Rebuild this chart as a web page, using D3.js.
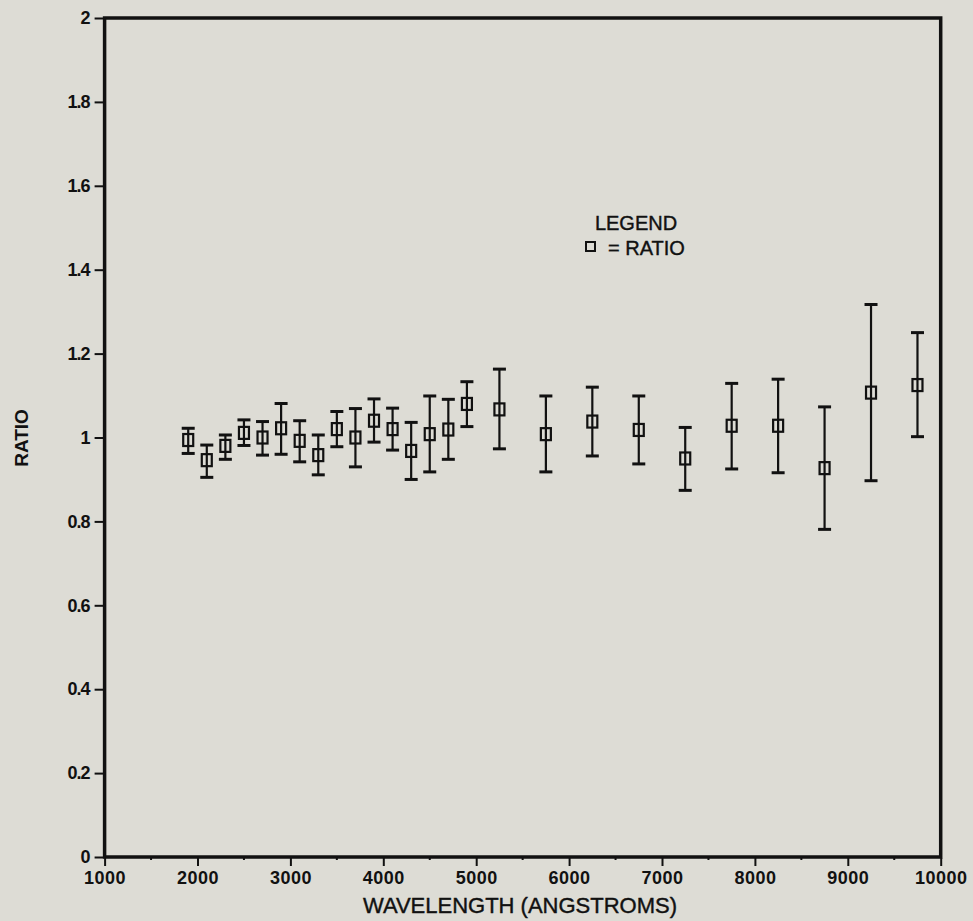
<!DOCTYPE html>
<html><head><meta charset="utf-8">
<script src="https://cdn.jsdelivr.net/npm/d3@7"></script>
<style>
html,body{margin:0;padding:0;background:#dddcd5;}
svg{display:block;}
text{font-family:"Liberation Sans",Arial,sans-serif;fill:#111;}
</style></head>
<body>
<script>
const wavelengths = [1900,2100,2300,2500,2700,2900,3100,3300,3500,3700,3900,4100,4300,4500,4700,4900,5250,5750,6250,6750,7250,7750,8250,8750,9250,9750];
const ratio = [0.994,0.946,0.980,1.011,1.000,1.022,0.992,0.958,1.020,1.000,1.040,1.020,0.968,1.008,1.019,1.080,1.067,1.008,1.038,1.018,0.950,1.028,1.028,0.927,1.107,1.125];
const errHigh = [1.022,0.982,1.006,1.042,1.038,1.081,1.040,1.006,1.062,1.069,1.092,1.070,1.036,1.099,1.091,1.133,1.163,1.099,1.120,1.099,1.024,1.129,1.139,1.073,1.317,1.250];
const errLow = [0.962,0.905,0.948,0.981,0.958,0.960,0.942,0.911,0.978,0.930,0.989,0.970,0.900,0.918,0.948,1.026,0.973,0.918,0.956,0.937,0.874,0.925,0.916,0.781,0.897,1.002];
const xTicks = [1000,2000,3000,4000,5000,6000,7000,8000,9000,10000];
const xMinor = [1500,2500,3500,4500,5500,6500,7500,8500,9500];
const yTicks = [0,0.2,0.4,0.6,0.8,1,1.2,1.4,1.6,1.8,2];
const yTickLabels = ["0","0.2","0.4","0.6","0.8","1","1.2","1.4","1.6","1.8","2"];

const W = 973, H = 921;
const svg = d3.select("body").append("svg").attr("width", W).attr("height", H);
svg.append("rect").attr("width", W).attr("height", H).attr("fill", "#dddcd5");

const x = d3.scaleLinear().domain([1000, 10000]).range([104.6, 940.7]);
const y = d3.scaleLinear().domain([0, 2]).range([857, 18]);

const ink = "#111";

// frame
svg.append("path")
  .attr("d", `M${x(1000)},${y(0)} V${y(2)} H${x(10000)} V${y(0)} Z`)
  .attr("fill", "none").attr("stroke", ink).attr("stroke-width", 3.5);

// y axis ticks + labels
const yAxis = d3.axisLeft(y).tickValues(yTicks).tickSize(9).tickPadding(5)
  .tickFormat((d, i) => yTickLabels[i]);
const gy = svg.append("g").attr("transform", `translate(${x(1000) - 1},0)`).call(yAxis);
gy.select(".domain").remove();
gy.selectAll(".tick line").attr("stroke", ink).attr("stroke-width", 2);
gy.selectAll(".tick text").attr("font-size", 18).attr("font-weight", "bold")
  .attr("fill", ink).style("letter-spacing", "-1px");

// x axis ticks + labels
const xAxis = d3.axisBottom(x).tickValues(xTicks).tickSize(8).tickPadding(5)
  .tickFormat(d3.format("d"));
const gx = svg.append("g").attr("transform", `translate(0,${y(0) + 1})`).call(xAxis);
gx.select(".domain").remove();
gx.selectAll(".tick line").attr("stroke", ink).attr("stroke-width", 2);
gx.selectAll(".tick text").attr("font-size", 18).attr("font-weight", "bold")
  .attr("fill", ink).style("letter-spacing", "0.5px");

// minor ticks
svg.append("g").selectAll("line").data(xMinor).join("line")
  .attr("x1", d => x(d)).attr("x2", d => x(d))
  .attr("y1", y(0)).attr("y2", y(0) + 3)
  .attr("stroke", ink).attr("stroke-width", 2);

// axis titles
svg.append("text").attr("x", 520).attr("y", 913).attr("text-anchor", "middle")
  .attr("font-size", 22).attr("stroke", ink).attr("stroke-width", 0.4)
  .text("WAVELENGTH (ANGSTROMS)");
svg.append("text").attr("transform", "translate(28,438) rotate(-90)")
  .attr("text-anchor", "middle").attr("font-size", 19).attr("font-weight", "bold")
  .text("RATIO");

// error bars
const data = wavelengths.map((w, i) => ({w, v: ratio[i], hi: errHigh[i], lo: errLow[i]}));
const g = svg.append("g");
g.selectAll("line.bar").data(data).join("line").attr("class", "bar")
  .attr("x1", d => x(d.w)).attr("x2", d => x(d.w))
  .attr("y1", d => y(d.hi)).attr("y2", d => y(d.lo))
  .attr("stroke", ink).attr("stroke-width", 2.2);
const capW = 6.5;
g.selectAll("line.capt").data(data).join("line").attr("class", "capt")
  .attr("x1", d => x(d.w) - capW).attr("x2", d => x(d.w) + capW)
  .attr("y1", d => y(d.hi)).attr("y2", d => y(d.hi))
  .attr("stroke", ink).attr("stroke-width", 3);
g.selectAll("line.capb").data(data).join("line").attr("class", "capb")
  .attr("x1", d => x(d.w) - capW).attr("x2", d => x(d.w) + capW)
  .attr("y1", d => y(d.lo)).attr("y2", d => y(d.lo))
  .attr("stroke", ink).attr("stroke-width", 3);
g.selectAll("rect.mk").data(data).join("rect").attr("class", "mk")
  .attr("x", d => x(d.w) - 5).attr("y", d => y(d.v) - 6)
  .attr("width", 10).attr("height", 12)
  .attr("fill", "none").attr("stroke", ink).attr("stroke-width", 2.2);

// legend
svg.append("text").attr("x", 636).attr("y", 230).attr("text-anchor", "middle")
  .attr("font-size", 20).attr("stroke", ink).attr("stroke-width", 0.4).text("LEGEND");
svg.append("rect").attr("x", 586).attr("y", 242).attr("width", 9).attr("height", 9)
  .attr("fill", "none").attr("stroke", ink).attr("stroke-width", 2);
svg.append("text").attr("x", 608).attr("y", 255).attr("font-size", 20)
  .attr("stroke", ink).attr("stroke-width", 0.4).text("= RATIO");
</script>
</body></html>
